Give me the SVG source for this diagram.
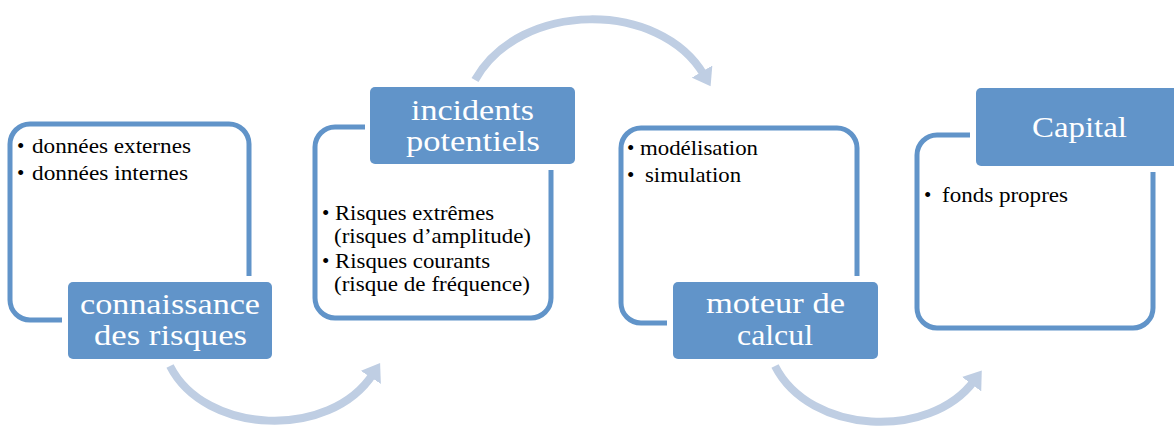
<svg xmlns="http://www.w3.org/2000/svg" width="1174" height="429" viewBox="0 0 1174 429">
<defs>
<style>
.frame{fill:none;stroke:#6194C9;stroke-width:5;stroke-linecap:butt}
.lbl{fill:#6194C9}
.lt{font-family:"Liberation Serif","DejaVu Serif",serif;font-size:30px;fill:#ffffff}
.bt{font-family:"Liberation Serif","DejaVu Serif",serif;font-size:21px;fill:#000000}
.arc{fill:none;stroke:#BFCEE3;stroke-width:8}
</style>
<marker id="ah" markerUnits="userSpaceOnUse" markerWidth="22" markerHeight="24" refX="4" refY="12" orient="auto">
<path d="M0,0 L17,12 L0,24 Z" fill="#BFCEE3"/>
</marker>
</defs>
<rect width="1174" height="429" fill="#ffffff"/>
<g id="connectors">
<path class="arc" d="M170,366 C205,435 330,440 373,374" marker-end="url(#ah)"/>
<path class="arc" d="M475,80 C520,0 660,0 704,75" marker-end="url(#ah)"/>
<path class="arc" d="M775,366 C810,435 930,440 974,381" marker-end="url(#ah)"/>
</g>
<g id="node1">
<path class="frame" d="M249,276 V144 A20,20 0 0 0 229,124 H30 A20,20 0 0 0 10,144 V300 A20,20 0 0 0 30,320 H62"/>
<text class="bt" x="17" y="153">•</text><text class="bt" x="32" y="153" textLength="159" lengthAdjust="spacingAndGlyphs">données externes</text>
<text class="bt" x="17" y="180">•</text><text class="bt" x="32" y="180" textLength="156" lengthAdjust="spacingAndGlyphs">données internes</text>
<rect class="lbl" x="68" y="282" width="204" height="77" rx="5"/>
<text class="lt" x="80" y="314" textLength="180" lengthAdjust="spacingAndGlyphs">connaissance</text>
<text class="lt" x="94" y="345" textLength="153" lengthAdjust="spacingAndGlyphs">des risques</text>
</g>
<g id="node2">
<path class="frame" d="M365,127 H335 A20,20 0 0 0 315,147 V298 A20,20 0 0 0 335,318 H531 A20,20 0 0 0 551,298 V170"/>
<rect class="lbl" x="370" y="87" width="205" height="77" rx="5"/>
<text class="lt" x="411" y="120" textLength="123" lengthAdjust="spacingAndGlyphs">incidents</text>
<text class="lt" x="406" y="151" textLength="134" lengthAdjust="spacingAndGlyphs">potentiels</text>
<text class="bt" x="322" y="220">•</text><text class="bt" x="335" y="220" textLength="159" lengthAdjust="spacingAndGlyphs">Risques extrêmes</text>
<text class="bt" x="334" y="243" textLength="197" lengthAdjust="spacingAndGlyphs">(risques d’amplitude)</text>
<text class="bt" x="322" y="268">•</text><text class="bt" x="335" y="268" textLength="155" lengthAdjust="spacingAndGlyphs">Risques courants</text>
<text class="bt" x="334" y="291" textLength="196" lengthAdjust="spacingAndGlyphs">(risque de fréquence)</text>
</g>
<g id="node3">
<path class="frame" d="M857,276 V148 A20,20 0 0 0 837,128 H641 A20,20 0 0 0 621,148 V303 A20,20 0 0 0 641,323 H667"/>
<text class="bt" x="627" y="155">•</text><text class="bt" x="640" y="155" textLength="118" lengthAdjust="spacingAndGlyphs">modélisation</text>
<text class="bt" x="627" y="182">•</text><text class="bt" x="645" y="182" textLength="96" lengthAdjust="spacingAndGlyphs">simulation</text>
<rect class="lbl" x="673" y="282" width="205" height="77" rx="5"/>
<text class="lt" x="706" y="313" textLength="139" lengthAdjust="spacingAndGlyphs">moteur de</text>
<text class="lt" x="737" y="345" textLength="76" lengthAdjust="spacingAndGlyphs">calcul</text>
</g>
<g id="node4">
<path class="frame" d="M970,135 H937 A20,20 0 0 0 917,155 V308 A20,20 0 0 0 937,328 H1133 A20,20 0 0 0 1153,308 V172"/>
<rect class="lbl" x="976" y="88" width="205" height="78" rx="5"/>
<text class="lt" x="1032" y="137" textLength="95" lengthAdjust="spacingAndGlyphs">Capital</text>
<text class="bt" x="924" y="202">•</text><text class="bt" x="942" y="202" textLength="126" lengthAdjust="spacingAndGlyphs">fonds propres</text>
</g>
</svg>
